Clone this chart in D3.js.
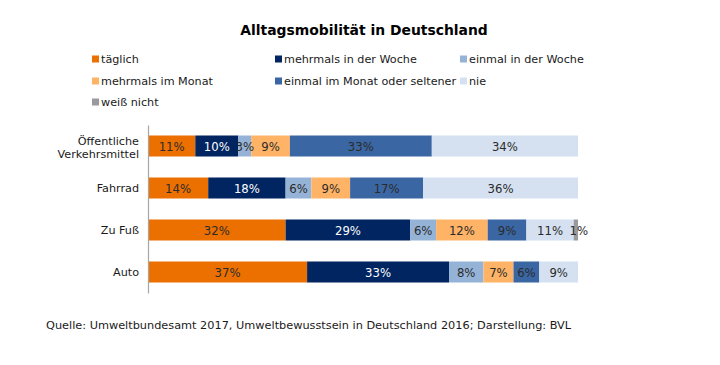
<!DOCTYPE html>
<html>
<head>
<meta charset="utf-8">
<script src="https://cdn.jsdelivr.net/npm/d3@7"></script>
<style>
  html, body { margin: 0; padding: 0; background: #fff; }
  svg { display: block; font-family: "DejaVu Sans", Verdana, sans-serif; }
</style>
</head>
<body>
<svg id="chart" width="720" height="365"></svg>
<script>
const categories = ["Öffentliche Verkehrsmittel", "Fahrrad", "Zu Fuß", "Auto"];
const seriesNames = ["täglich", "mehrmals in der Woche", "einmal in der Woche", "mehrmals im Monat", "einmal im Monat oder seltener", "nie", "weiß nicht"];
const taeglich        = [11, 14, 32, 37];
const mehrmalsWoche   = [10, 18, 29, 33];
const einmalWoche     = [3, 6, 6, 8];
const mehrmalsMonat   = [9, 9, 12, 7];
const einmalMonat     = [33, 17, 9, 6];
const nie             = [34, 36, 11, 9];
const weissNicht      = [0, 0, 1, 0];
const seriesValues = [taeglich, mehrmalsWoche, einmalWoche, mehrmalsMonat, einmalMonat, nie, weissNicht];
const colors = ["#EC7000", "#002561", "#95B3D7", "#FFB366", "#3A67A3", "#D5E1F0", "#9A9A9E"];
const textColors = ["#2b2b2b", "#ffffff", "#2b2b2b", "#2b2b2b", "#2b2b2b", "#2b2b2b", "#2b2b2b"];

const svg = d3.select("#chart");

// Title
svg.append("text")
  .attr("x", 364).attr("y", 35)
  .attr("text-anchor", "middle")
  .attr("font-size", 13.9).attr("font-weight", "bold")
  .attr("fill", "#000")
  .text("Alltagsmobilität in Deutschland");

// Legend
const legendPos = [
  [92, 59], [275, 59], [460, 59],
  [92, 81], [275, 81], [460, 81],
  [92, 102]
];
const lg = svg.append("g");
seriesNames.forEach((name, i) => {
  const [lx, ly] = legendPos[i];
  lg.append("rect").attr("x", lx).attr("y", ly - 3.5).attr("width", 7).attr("height", 7).attr("fill", colors[i]);
  lg.append("text").attr("x", lx + 9).attr("y", ly + 4)
    .attr("font-size", 11.2).attr("fill", "#1a1a1a").text(name);
});

// Scales
const x = d3.scaleLinear().domain([0, 100]).range([148, 578]);
const y = d3.scaleBand().domain(categories).range([125, 293]).paddingInner(0.5).paddingOuter(0.25);

// Stacked data
const rows = categories.map((c, ci) => {
  const obj = { cat: c };
  seriesNames.forEach((s, si) => obj[s] = seriesValues[si][ci]);
  return obj;
});
const stacked = d3.stack().keys(seriesNames)(rows);

const bars = svg.append("g");
stacked.forEach((layer, si) => {
  layer.forEach(d => {
    const v = d[1] - d[0];
    if (v <= 0) return;
    bars.append("rect")
      .attr("x", x(d[0])).attr("y", y(d.data.cat))
      .attr("width", x(d[1]) - x(d[0])).attr("height", y.bandwidth())
      .attr("fill", colors[si]);
  });
});
stacked.forEach((layer, si) => {
  layer.forEach(d => {
    const v = d[1] - d[0];
    if (v <= 0) return;
    bars.append("text")
      .attr("x", (x(d[0]) + x(d[1])) / 2 + (si === 6 ? 3 : 0))
      .attr("y", y(d.data.cat) + y.bandwidth() / 2 + 4.5)
      .attr("text-anchor", "middle")
      .attr("font-size", 11.7).attr("fill", textColors[si])
      .text(v + "%");
  });
});

// Axis (category)
const yAxis = d3.axisLeft(y).tickSize(0).tickPadding(9).tickFormat(() => "");
const ag = svg.append("g").attr("transform", "translate(148,0)").call(yAxis);
ag.select(".domain").attr("stroke", "#a6a6a6").attr("stroke-width", 1.2);

// Category labels (multi-line)
const catLines = { "Öffentliche Verkehrsmittel": ["Öffentliche", "Verkehrsmittel"] };
categories.forEach(c => {
  const lines = catLines[c] || [c];
  const cy = y(c) + y.bandwidth() / 2;
  const t = svg.append("text").attr("text-anchor", "end").attr("font-size", 11.2).attr("fill", "#1a1a1a");
  lines.forEach((ln, li) => {
    const dy = lines.length === 1 ? 4 : (li === 0 ? -1.5 : 12);
    t.append("tspan").attr("x", 139).attr("y", cy + dy).text(ln);
  });
});

// Source
svg.append("text")
  .attr("x", 46).attr("y", 329)
  .attr("font-size", 11.3).attr("fill", "#1a1a1a")
  .text("Quelle: Umweltbundesamt 2017, Umweltbewusstsein in Deutschland 2016; Darstellung: BVL");
</script>
</body>
</html>
